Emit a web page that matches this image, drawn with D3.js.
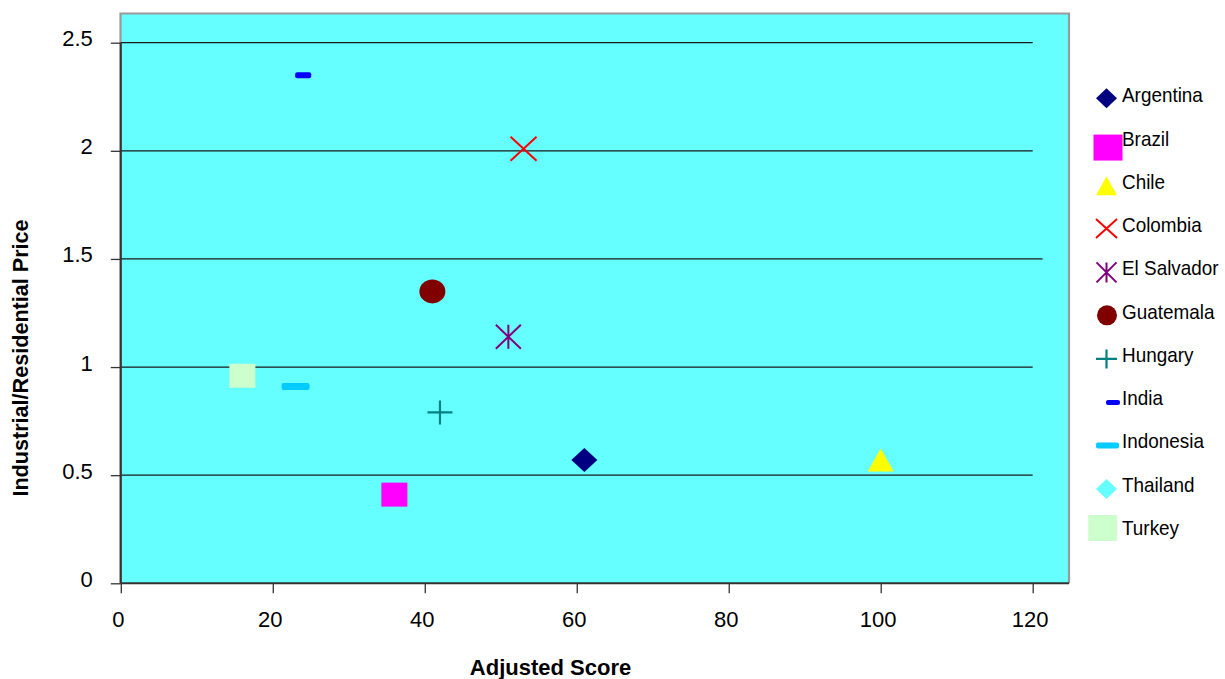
<!DOCTYPE html>
<html>
<head>
<meta charset="utf-8">
<script src="https://cdn.jsdelivr.net/npm/d3@7"></script>
<style>
  html, body { margin: 0; padding: 0; background: #fff; }
  svg { display: block; font-family: "Liberation Sans", Arial, sans-serif; }
</style>
</head>
<body>
<svg id="chart" width="1225" height="679"></svg>
<script>
// Series: one point per country
const countries = ["Argentina", "Brazil", "Chile", "Colombia", "El Salvador", "Guatemala",
                   "Hungary", "India", "Indonesia", "Thailand", "Turkey"];
const adjustedScore = [61, 36, 100, 53, 51, 41, 42, 24, 23, null, 16];
const priceRatio    = [0.57, 0.41, 0.57, 2.01, 1.14, 1.35, 0.79, 2.35, 0.91, null, 0.96];

// Axis ticks
const xTicks = [0, 20, 40, 60, 80, 100, 120];
const yTicks = [0, 0.5, 1, 1.5, 2, 2.5];

const xTitle = "Adjusted Score";
const yTitle = "Industrial/Residential Price";

// Marker appearance per series (plot size w×h, legend size lw×lh, legend offsets)
const markerStyle = {
  "Argentina":   { shape: "diamond",  color: "#000080", w: 26, h: 24, lw: 21, lh: 20, lx: 0,   ly: -4 },
  "Brazil":      { shape: "square",   color: "#FF00FF", w: 26, h: 24, lw: 29, lh: 26, lx: 1.5, ly: 2 },
  "Chile":       { shape: "triangle", color: "#FFFF00", w: 26, h: 23, lw: 21, lh: 19, lx: 0,   ly: -3 },
  "Colombia":    { shape: "x",        color: "#FF0000", w: 26, h: 24, lw: 21, lh: 19, lx: 0,   ly: -3.5 },
  "El Salvador": { shape: "star",     color: "#800080", w: 25, h: 24, lw: 20, lh: 20, lx: 0,   ly: -3 },
  "Guatemala":   { shape: "circle",   color: "#800000", w: 26, h: 24, lw: 20, lh: 20, lx: 0.5, ly: -3.3 },
  "Hungary":     { shape: "plus",     color: "#008080", w: 25, h: 24, lw: 21, lh: 19, lx: 0,   ly: -3 },
  "India":       { shape: "dash",     color: "#0000FF", w: 16, h: 6,  lw: 14, lh: 5,  lx: 6.5, ly: -2.6 },
  "Indonesia":   { shape: "dash",     color: "#00CCFF", w: 28, h: 7,  lw: 23, lh: 6,  lx: 1,   ly: -3 },
  "Thailand":    { shape: "diamond",  color: "#66FFFF", w: 26, h: 24, lw: 21, lh: 20, lx: 0,   ly: -2.7 },
  "Turkey":      { shape: "square",   color: "#CCFFCC", w: 26, h: 24, lw: 29, lh: 26, lx: -3.8, ly: -7 }
};

const svg = d3.select("#chart");
const font = "'Liberation Sans', Arial, sans-serif";

// Plot frame
const plot = { left: 120.5, top: 13.5, right: 1069, bottom: 583.3 };

const x = d3.scaleLinear().domain([0, 120]).range([120.8, 1032.7]);
const y = d3.scaleLinear().domain([0, 2.5]).range([583.3, 42.7]);

// Background with grey border on top / right
svg.append("rect")
  .attr("x", plot.left).attr("y", plot.top)
  .attr("width", plot.right - plot.left).attr("height", plot.bottom - plot.top)
  .attr("fill", "#66FFFF");
svg.append("path")
  .attr("d", `M${plot.left},${plot.bottom} V${plot.top} H${plot.right} V${plot.bottom}`)
  .attr("fill", "none").attr("stroke", "#999").attr("stroke-width", 2.2);

// Horizontal gridlines
svg.append("g").selectAll("line")
  .data(yTicks.filter(d => d > 0))
  .join("line")
  .attr("x1", x(0)).attr("x2", d => d === 1.5 ? x(121.3) : x(120))
  .attr("y1", d => y(d)).attr("y2", d => y(d))
  .attr("stroke", "#1a1a1a").attr("stroke-width", 1.3);

// Y axis
const yAxis = svg.append("g")
  .attr("transform", `translate(${x(0)},0)`)
  .call(d3.axisLeft(y).tickValues(yTicks).tickSize(10).tickPadding(18)
        .tickFormat(d => d3.format("")(d)));
yAxis.select(".domain").remove();
yAxis.append("line")
  .attr("x1", 0).attr("x2", 0).attr("y1", y(2.5)).attr("y2", y(0))
  .attr("stroke", "#333").attr("stroke-width", 2);
yAxis.selectAll(".tick line").attr("stroke", "#333").attr("stroke-width", 1.3);
yAxis.selectAll(".tick text")
  .attr("font-family", font).attr("font-size", 22).attr("fill", "#000")
  .attr("dy", "3").attr("x", -28);

// X axis
const xAxis = svg.append("g")
  .attr("transform", `translate(0,${y(0)})`)
  .call(d3.axisBottom(x).tickValues(xTicks).tickSize(10).tickPadding(10)
        .tickFormat(d3.format("d")));
xAxis.select(".domain").remove();
xAxis.append("line")
  .attr("x1", plot.left).attr("x2", plot.right).attr("y1", 0).attr("y2", 0)
  .attr("stroke", "#333").attr("stroke-width", 2);
xAxis.selectAll(".tick line").attr("stroke", "#333").attr("stroke-width", 1.3);
xAxis.selectAll(".tick text")
  .attr("font-family", font).attr("font-size", 22).attr("fill", "#000")
  .attr("dx", "-3").attr("dy", "0.71em").attr("y", 28);

// Marker drawing
function drawMarker(g, s, w, h) {
  const hw = w / 2, hh = h / 2;
  switch (s.shape) {
    case "diamond":
      g.append("path").attr("d", `M0,${-hh}L${hw},0L0,${hh}L${-hw},0Z`).attr("fill", s.color);
      break;
    case "square":
      g.append("rect").attr("x", -hw).attr("y", -hh).attr("width", w).attr("height", h).attr("fill", s.color);
      break;
    case "triangle":
      g.append("path").attr("d", `M0,${-hh}L${hw},${hh}L${-hw},${hh}Z`).attr("fill", s.color);
      break;
    case "circle":
      g.append("ellipse").attr("rx", hw).attr("ry", hh).attr("fill", s.color);
      break;
    case "dash":
      g.append("rect").attr("x", -hw).attr("y", -hh).attr("width", w).attr("height", h)
        .attr("rx", 2).attr("fill", s.color);
      break;
    case "x":
      g.append("path").attr("d", `M${-hw},${-hh}L${hw},${hh}M${-hw},${hh}L${hw},${-hh}`)
        .attr("stroke", s.color).attr("stroke-width", 2).attr("fill", "none");
      break;
    case "star":
      g.append("path").attr("d", `M${-hw},${-hh}L${hw},${hh}M${-hw},${hh}L${hw},${-hh}M0,${-hh}L0,${hh}`)
        .attr("stroke", s.color).attr("stroke-width", 2).attr("fill", "none");
      break;
    case "plus":
      g.append("path").attr("d", `M${-hw},0L${hw},0M0,${-hh}L0,${hh}`)
        .attr("stroke", s.color).attr("stroke-width", 2.2).attr("fill", "none");
      break;
  }
}

// Points
const points = countries.map((c, i) => ({ name: c, xv: adjustedScore[i], yv: priceRatio[i] }))
  .filter(d => d.xv != null && d.yv != null);
const pointLayer = svg.append("g");
points.forEach(d => {
  const s = markerStyle[d.name];
  const g = pointLayer.append("g").attr("transform", `translate(${x(d.xv)},${y(d.yv)})`);
  drawMarker(g, s, s.w, s.h);
});

// Legend
const legend = svg.append("g");
const legendTop = 102.3, legendStep = 43.27, legendMarkX = 1106.5, legendTextX = 1122;
countries.forEach((c, i) => {
  const s = markerStyle[c];
  const base = legendTop + i * legendStep;
  const g = legend.append("g").attr("transform", `translate(${legendMarkX + s.lx},${base + s.ly})`);
  drawMarker(g, s, s.lw, s.lh);
  legend.append("text")
    .attr("transform", `translate(${legendTextX},${base}) scale(0.9,1)`)
    .attr("font-family", font).attr("font-size", 21).attr("fill", "#000")
    .text(c);
});

// Axis titles
svg.append("text")
  .attr("x", 550.5).attr("y", 675)
  .attr("text-anchor", "middle")
  .attr("font-family", font).attr("font-size", 22).attr("font-weight", "bold")
  .text(xTitle);
svg.append("text")
  .attr("transform", "translate(28.3,358) rotate(-90)")
  .attr("text-anchor", "middle")
  .attr("font-family", font).attr("font-size", 21.6).attr("font-weight", "bold")
  .text(yTitle);
</script>
</body>
</html>
